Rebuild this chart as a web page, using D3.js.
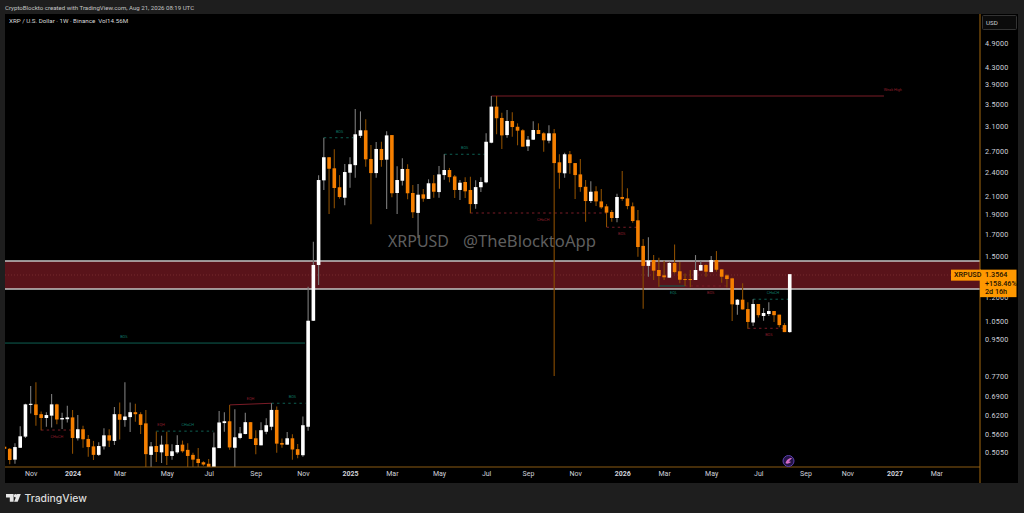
<!DOCTYPE html>
<html>
<head>
<meta charset="utf-8">
<script src="https://cdn.jsdelivr.net/npm/d3@7/dist/d3.min.js"></script>
<style>
  html, body { margin: 0; padding: 0; background: #1e1e1e; overflow: hidden; }
  svg { display: block; font-family: Roboto, "Liberation Sans", sans-serif; }
</style>
</head>
<body>
<svg id="chart" width="1024" height="513"></svg>
<script>
// Weekly XRPUSD candles, first bar is the week of 2023-10-02.
const firstWeek = "2023-10-02";
const opens = [.520,
  .514,.484,.517,.550,.656,.658,.623,.610,.618,.658,
  .605,.606,.612,.545,.573,.543,.521,.497,.521,.554,
  .537,.623,.603,.613,.630,.623,.592,.497,.522,.504,
  .527,.494,.504,.526,.511,.497,.486,.477,.473,.459,
  .516,.593,.599,.517,.546,.558,.596,.545,.524,.565,
  .581,.638,.531,.526,.545,.513,.496,.581,1.047,1.427,
  2.284,2.597,2.442,2.198,2.074,2.383,2.485,2.925,3.016,2.572,
  2.378,2.719,2.562,2.937,2.129,2.279,2.433,2.129,1.906,2.113,
  2.06,2.247,2.14,2.352,2.419,2.334,2.165,2.263,2.165,2.002,
  2.198,2.259,2.815,3.44,3.23,2.937,3.176,3.076,3.016,2.76,
  2.863,3.021,2.966,2.847,2.966,2.525,2.375,2.64,2.514,2.361,
  2.204,2.036,2.149,2.032,1.977,1.916,1.853,2.082,2.066,1.977,
  1.829,1.587,1.42,1.467,1.388,1.347,1.33,1.443,1.378,1.32,
  1.32,1.313,1.383,1.427,1.372,1.467,1.393,1.347,1.325,1.144,
  1.177,1.117,1.037,1.149,1.075,1.087,1.105,1.083,1.022,.983];
const highs = [.520,
  .516,.530,.583,.660,.729,.744,.632,.630,.697,.660,
  .628,.653,.638,.620,.584,.555,.537,.533,.576,.573,
  .648,.665,.744,.665,.660,.630,.638,.534,.566,.553,
  .565,.527,.554,.538,.530,.503,.516,.480,.486,.563,
  .634,.630,.656,.640,.580,.628,.596,.570,.596,.609,
  .662,.650,.544,.564,.557,.528,.615,1.265,1.624,2.349,
  2.894,2.597,2.715,2.352,2.502,2.597,3.395,3.35,3.206,2.78,
  2.826,2.83,2.999,2.937,2.469,2.581,2.498,2.225,2.237,2.177,
  2.297,2.352,2.473,2.64,2.447,2.352,2.288,2.323,2.331,2.284,
  2.323,2.967,3.65,3.65,3.326,3.376,3.333,3.135,3.033,2.923,
  3.171,3.135,2.983,3.1,3.04,2.64,2.664,2.689,2.514,2.572,
  2.288,2.272,2.21,2.177,2.002,1.937,2.12,2.405,2.186,2.02,
  1.937,1.649,1.664,1.508,1.486,1.461,1.456,1.6,1.451,1.362,
  1.388,1.508,1.459,1.433,1.5,1.542,1.393,1.355,1.33,1.181,
  1.289,1.16,1.18,1.149,1.124,1.16,1.105,1.083,1.033,1.3564];
const lows = [.514,
  .472,.473,.516,.546,.625,.584,.570,.581,.579,.589,
  .574,.595,.500,.538,.517,.492,.483,.494,.512,.519,
  .525,.541,.581,.564,.597,.558,.45,.45,.478,.475,
  .470,.484,.500,.503,.45,.45,.45,.468,.45,.45,
  .516,.565,.511,.45,.542,.557,.543,.499,.524,.557,
  .570,.503,.517,.526,.484,.488,.492,.568,1.045,1.277,
  2.165,1.895,1.955,2.063,1.99,2.192,2.318,2.89,2.463,1.79,
  2.318,2.463,1.948,2.078,1.895,2.218,2.056,1.853,1.658,2.028,
  2.06,2.074,2.074,2.292,2.259,2.07,2.048,2.07,1.902,1.951,
  2.14,2.247,2.805,2.95,2.719,2.894,2.91,2.775,2.754,2.689,
  2.858,2.955,2.678,2.805,.77,2.18,2.318,2.37,2.06,2.144,
  1.815,2.014,1.98,1.951,1.762,1.815,1.81,2.04,1.945,1.805,
  1.495,1.119,1.337,1.313,1.265,1.313,1.33,1.362,1.289,1.27,
  1.262,1.313,1.383,1.337,1.372,1.375,1.293,1.259,1.045,1.082,
  1.115,1.002,1.017,1.066,1.047,1.075,1.04,1.01,.983,.98];
const closes = [.514,
  .483,.519,.551,.658,.660,.620,.610,.620,.658,.605,
  .610,.612,.546,.573,.542,.519,.497,.522,.554,.538,
  .623,.604,.615,.630,.623,.587,.499,.521,.505,.526,
  .494,.507,.525,.507,.494,.484,.475,.471,.462,.518,
  .595,.599,.518,.548,.560,.596,.543,.525,.570,.586,
  .638,.529,.526,.545,.512,.497,.586,1.047,1.427,2.288,
  2.597,2.436,2.189,2.082,2.392,2.498,2.95,3.016,2.567,2.378,
  2.719,2.557,2.932,2.126,2.288,2.433,2.126,1.913,2.109,2.063,
  2.247,2.144,2.361,2.419,2.325,2.165,2.254,2.149,2.002,2.2,
  2.263,2.83,3.44,3.225,2.932,3.176,3.071,3.01,2.754,2.863,
  3.021,2.955,2.853,2.966,2.514,2.383,2.64,2.514,2.352,2.2,
  2.036,2.144,2.032,1.966,1.909,1.853,2.082,2.06,1.98,1.822,
  1.577,1.42,1.464,1.383,1.342,1.333,1.443,1.372,1.315,1.313,
  1.313,1.388,1.427,1.375,1.467,1.39,1.337,1.32,1.147,1.177,
  1.115,1.04,1.149,1.08,1.093,1.105,1.08,1.022,.983,1.3564];

const priceTicks = [4.9,4.3,3.9,3.5,3.1,2.7,2.4,2.1,1.9,1.7,1.5,1.2,1.05,.95,.77,.69,.62,.56,.505];
const timeTickDates = ["2023-11-06","2024-01-01","2024-03-04","2024-05-06","2024-07-01","2024-09-02","2024-11-04",
  "2025-01-06","2025-03-03","2025-05-05","2025-07-07","2025-09-01","2025-11-03",
  "2026-01-05","2026-03-02","2026-05-04","2026-07-06","2026-09-07","2026-11-02","2027-01-04","2027-03-01"];
const timeTickLabels = ["Nov","2024","Mar","May","Jul","Sep","Nov",
  "2025","Mar","May","Jul","Sep","Nov",
  "2026","Mar","May","Jul","Sep","Nov","2027","Mar"];

// Supply zone, top / bottom / midline prices.
const zoneTop = 1.459, zoneBottom = 1.249, zoneMid = 1.35;
const lastPrice = "1.3564", lastChange = "+158.46%", lastCountdown = "2d 16h";

// Market structure levels: start bar, end bar, price, end price, side, label, label bar, label above (1) or below (-1).
const solidLevels = [
  [0, 57.4, .925, .925, "bull", "BOS", 22.8, 1],
  [93, 168, 3.649, 3.649, "bear", "Weak High", 169.7, 1],
  [125, 130, 1.27, 1.27, "bull", "EQL", 127.8, -1],
  [43, 51, .656, .662, "bear", "EQH", 47, 1]
];
const dashedLevels = [
  [61, 66.6, 2.894, 2.894, "bull", "BOS", 64, 1],
  [84, 91.7, 2.64, 2.64, "bull", "BOS", 87.9, 1],
  [89, 115, 1.905, 1.905, "bear", "CHoCH", 102.9, -1],
  [115, 120.8, 1.76, 1.76, "bear", "BOS", 117.9, -1],
  [130, 138.5, 1.27, 1.27, "bear", "BOS", 134.9, -1],
  [143, 149.7, 1.18, 1.18, "bull", "CHoCH", 146.8, 1],
  [142, 148.7, 1.004, 1.004, "bear", "BOS", 146, -1],
  [7, 12.65, .5705, .5705, "bear", "CHoCH", 10, -1],
  [29, 39.9, .567, .567, "bull", "CHoCH", 35, 1],
  [29, 29, .567, .567, "bear", "EQH", 29.9, 1],
  [51, 57.5, .662, .662, "bull", "BOS", 55, 1]
];

const WEEK = 7 * 24 * 3600 * 1000;
const start = new Date(firstWeek + "T00:00:00Z");
const barDate = n => new Date(+start + n * WEEK);

const W = 1024, H = 513;
const plot = {left: 5, right: 980, top: 14, bottom: 467, panelRight: 1018, panelBottom: 483};

const x = d3.scaleUtc()
  .domain([start, new Date("2027-04-26T00:00:00Z")])
  .range([4.5, 978.2]);
const y = d3.scaleLog()
  .domain([.4646, 5.755])
  .range([plot.bottom, plot.top]);
const barX = n => x(barDate(n));

const svg = d3.select("#chart").attr("viewBox", "0 0 " + W + " " + H);

// Page frame and black chart panel.
svg.append("rect").attr("width", W).attr("height", H).attr("fill", "#1e1e1e");
svg.append("rect")
  .attr("x", plot.left).attr("y", plot.top)
  .attr("width", plot.panelRight - plot.left)
  .attr("height", plot.panelBottom - plot.top)
  .attr("fill", "#000");

svg.append("clipPath").attr("id", "plot-clip").append("rect")
  .attr("x", plot.left).attr("y", plot.top)
  .attr("width", plot.right - plot.left)
  .attr("height", plot.bottom - plot.top);

const content = svg.append("g").attr("clip-path", "url(#plot-clip)");

// Supply zone behind the candles.
content.append("rect")
  .attr("x", plot.left).attr("width", plot.right - plot.left)
  .attr("y", y(zoneTop)).attr("height", y(zoneBottom) - y(zoneTop))
  .attr("fill", "#59131a");
content.selectAll(".zone-edge").data([zoneTop, zoneBottom]).join("line")
  .attr("class", "zone-edge")
  .attr("x1", plot.left).attr("x2", plot.right)
  .attr("y1", d => y(d)).attr("y2", d => y(d))
  .attr("stroke", "#c4c4c4").attr("stroke-width", 1.6);
content.append("line")
  .attr("x1", plot.left).attr("x2", plot.right)
  .attr("y1", y(zoneMid)).attr("y2", y(zoneMid))
  .attr("stroke", "#8c3a3a").attr("stroke-width", .6).attr("stroke-dasharray", "1 2");

// Watermark sits under everything else.
content.append("text").text("XRPUSD")
  .attr("x", 388).attr("y", 247)
  .attr("font-size", 17).attr("fill", "#5e5e5e")
  .attr("textLength", 61).attr("lengthAdjust", "spacingAndGlyphs")
  .attr("font-family", "'Noto Sans', sans-serif");
content.append("text").text("@TheBlocktoApp")
  .attr("x", 463).attr("y", 247)
  .attr("font-size", 17).attr("fill", "#5e5e5e")
  .attr("textLength", 133).attr("lengthAdjust", "spacingAndGlyphs")
  .attr("font-family", "'Noto Sans', sans-serif");

const sideColor = {bull: "#0e5f52", bear: "#7a1c27"};
const labelColor = {bull: "#0f7a68", bear: "#8e1f2c"};

function drawLevels(rows, dash) {
  content.append("g").selectAll("line").data(rows.filter(d => d[0] !== d[1])).join("line")
    .attr("x1", d => barX(d[0])).attr("x2", d => barX(d[1]))
    .attr("y1", d => y(d[2])).attr("y2", d => y(d[3]))
    .attr("stroke", d => sideColor[d[4]])
    .attr("stroke-width", 1)
    .attr("stroke-dasharray", dash);
  content.append("g").selectAll("text").data(rows).join("text")
    .text(d => d[5])
    .attr("x", d => barX(d[6]))
    .attr("y", d => y(d[2]) - d[7] * 6.3)
    .attr("dy", ".35em")
    .attr("text-anchor", "middle")
    .attr("font-size", 3.8)
    .attr("fill", d => labelColor[d[4]]);
}
drawLevels(solidLevels, null);
drawLevels(dashedLevels, "2.4 3.2");

// Candles.
const candles = d3.range(opens.length).map(i => ({
  n: i, o: opens[i], h: highs[i], l: lows[i], c: closes[i], up: closes[i] >= opens[i]
}));
const bodyWidth = 3.6;

const bars = content.append("g").selectAll("g").data(candles).join("g");
bars.append("line")
  .attr("x1", d => barX(d.n)).attr("x2", d => barX(d.n))
  .attr("y1", d => y(d.h)).attr("y2", d => y(d.l))
  .attr("stroke", d => d.up ? "#7c7c7c" : "#8a4d00")
  .attr("stroke-width", 1.1);
bars.append("rect")
  .attr("x", d => barX(d.n) - bodyWidth / 2)
  .attr("width", bodyWidth)
  .attr("y", d => y(Math.max(d.o, d.c)))
  .attr("height", d => Math.max(1, Math.abs(y(d.o) - y(d.c))))
  .attr("fill", d => d.up ? "#ffffff" : "#f57f00");

// Price axis, labels start right of the orange border.
const yAxis = d3.axisRight(y)
  .tickValues(priceTicks)
  .tickFormat(d3.format(".4f"))
  .tickSize(0)
  .tickPadding(5);
const yAxisG = svg.append("g")
  .attr("transform", "translate(" + plot.right + ",0.5)")
  .call(yAxis);
yAxisG.select(".domain").remove();
yAxisG.selectAll("text")
  .attr("font-size", 7.2)
  .attr("letter-spacing", ".25")
  .attr("fill", "#cfd2da")
  .attr("font-family", "Roboto, sans-serif");

// Time axis.
const labelByDate = new Map(timeTickDates.map((d, i) => [+new Date(d + "T00:00:00Z"), timeTickLabels[i]]));
const xAxis = d3.axisBottom(x)
  .tickValues(timeTickDates.map(d => new Date(d + "T00:00:00Z")))
  .tickFormat(d => labelByDate.get(+d))
  .tickSize(0)
  .tickPadding(4);
const xAxisG = svg.append("g")
  .attr("transform", "translate(0," + plot.bottom + ")")
  .call(xAxis);
xAxisG.select(".domain").remove();
xAxisG.selectAll("text")
  .attr("font-size", 7)
  .attr("fill", "#cfd2da")
  .attr("font-family", "Roboto, sans-serif")
  .attr("font-weight", d => /^\d/.test(labelByDate.get(+d)) ? 700 : 400);

// Orange scale borders.
svg.append("line")
  .attr("x1", plot.left).attr("x2", plot.right)
  .attr("y1", plot.bottom).attr("y2", plot.bottom)
  .attr("stroke", "#8a5a12").attr("stroke-width", 1);
svg.append("line")
  .attr("x1", plot.right).attr("x2", plot.right)
  .attr("y1", plot.top).attr("y2", plot.panelBottom)
  .attr("stroke", "#a4690f").attr("stroke-width", 1);

// Currency button.
svg.append("rect")
  .attr("x", 982.5).attr("y", 15.5).attr("width", 34).attr("height", 14).attr("rx", 1)
  .attr("fill", "#0b0b0b").attr("stroke", "#333");
svg.append("text").text("USD")
  .attr("x", 986).attr("y", 25)
  .attr("font-size", 6.2).attr("fill", "#cfd2da");

// Last price tags.
const lastY = y(+lastPrice);
svg.append("rect")
  .attr("x", 951).attr("y", lastY - 4.5).attr("width", 30).attr("height", 11)
  .attr("fill", "#ff9800");
svg.append("rect")
  .attr("x", 980).attr("y", lastY - 4.5).attr("width", 36.5).attr("height", 27.5)
  .attr("fill", "#ff9800");
const tagText = [["XRPUSD", 954, 3.2], [lastPrice, 985, 3.2], [lastChange, 985, 11.6], [lastCountdown, 985, 20]];
svg.append("g").selectAll("text").data(tagText).join("text")
  .text(d => d[0])
  .attr("x", d => d[1])
  .attr("y", d => lastY + d[2])
  .attr("font-size", 7.2)
  .attr("font-weight", 500)
  .attr("fill", "#1c1200");

// Small event marker on the time axis edge.
const marker = svg.append("g").attr("transform", "translate(788.5,461)");
marker.append("circle").attr("r", 5.5).attr("fill", "#241446").attr("stroke", "#5b3fb0").attr("stroke-width", 1);
marker.append("path")
  .attr("d", "M-3 2 C-1 -3 2 -3 3.5 -3 C2 -1 1 0 0 0.5 C1 0.5 2 0.5 2.5 1 C0 3 -2 3 -3 2 Z")
  .attr("fill", "#d46ac8");

// Header and footer texts.
svg.append("text").text("CryptoBlockto created with TradingView.com, Aug 21, 2026 08:19 UTC")
  .attr("x", 5).attr("y", 9.8)
  .attr("font-size", 6.1).attr("fill", "#c4c4c4");
svg.append("text").text("XRP / U.S. Dollar · 1W · Binance  Vol14.56M")
  .attr("x", 9).attr("y", 23)
  .attr("xml:space", "preserve")
  .attr("font-size", 6.2).attr("fill", "#d8d8d8");

const logo = svg.append("g").attr("fill", "#e6e6e6");
logo.append("path").attr("d", "M6 494 H13.6 V501.7 H9.8 V497.6 H6 Z");
logo.append("circle").attr("cx", 15.6).attr("cy", 495.8).attr("r", 1.8);
logo.append("path").attr("d", "M20.8 494 H17.2 L14.1 501.7 H17.7 Z");
svg.append("text").text("TradingView")
  .attr("x", 24.5).attr("y", 502)
  .attr("font-size", 10.4)
  .attr("font-weight", 500)
  .attr("font-family", "Inter, Roboto, sans-serif")
  .attr("fill", "#dcdcdc");
</script>
</body>
</html>
